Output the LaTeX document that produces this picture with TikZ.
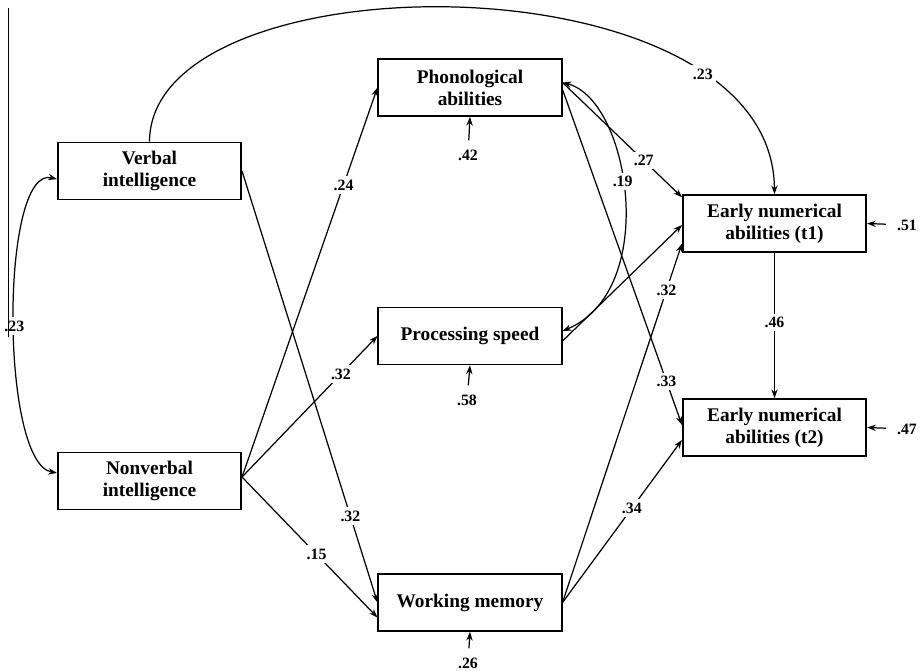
\documentclass[tikz,border=0pt]{standalone}
\usepackage{fontspec}
\setmainfont{Liberation Serif}
\usetikzlibrary{arrows.meta}

\begin{document}
\begin{tikzpicture}[x=0.02cm, y=-0.02cm, line width=0.7pt,
        >={Stealth[length=5pt, width=3.6pt]},
        box/.style={rectangle, draw, line width=0.9pt, minimum width=3.67cm, minimum height=1.14cm,
            inner sep=0pt, align=center, font=\bfseries\fontsize{11}{12.5}\selectfont},
        coef/.style={fill=white, inner sep=2pt, font=\bfseries\fontsize{9}{10}\selectfont}]
        \useasboundingbox (0,0) rectangle (920,670);

        % measured variables
        \node[box] (verbal) at (149.5,171) {Verbal\\intelligence};
        \node[box] (nonverbal) at (149.5,481) {Nonverbal\\intelligence};
        \node[box] (phono) at (470,87.5) {Phonological\\abilities};
        \node[box] (speed) at (470,336) {Processing speed};
        \node[box] (wm) at (470,602.5) {Working memory};
        \node[box] (t1) at (774.5,223.5) {Early numerical\\abilities (t1)};
        \node[box] (t2) at (774.5,427.5) {Early numerical\\abilities (t2)};

        % residuals
        \node[coef] (e42) at (468,155) {.42};
        \node[coef] (e58) at (467,400) {.58};
        \node[coef] (e26) at (468,663) {.26};
        \node[coef] (e51) at (907,225) {.51};
        \node[coef] (e47) at (907,429) {.47};

        \draw[->, shorten <=3pt] (e42) -- (phono.south);
        \draw[->, shorten <=3pt] (e58) -- (speed.south);
        \draw[->, shorten <=3pt] (e26) -- (wm.south);
        \draw[->, shorten <=4pt] (e51) -- (t1.east);
        \draw[->, shorten <=4pt] (e47) -- (t2.east);

        % ends of the paths
        \coordinate (nvout) at ([yshift=0.08cm]nonverbal.east);
        \coordinate (phout) at ([yshift=0.1cm]phono.east);
        \coordinate (phlow) at ([yshift=-0.04cm]phono.east);

        \draw[<->] (verbal.185) .. controls (0,165) and (0,463) .. node[coef, pos=0.52] {.23} (nonverbal.175);
        \draw[->] (verbal.north) .. controls (150,-45) and (773,-46) .. node[coef, pos=0.79] {.23} (t1.north);

        \draw[->] (nvout) -- node[coef, pos=0.75] {.24} (phono.west);
        \draw[->] (nvout) -- node[coef, pos=0.73] {.32} (speed.west);
        \draw[->] (nvout) -- node[coef, pos=0.55] {.15} ([yshift=-0.3cm]wm.west);
        \draw[->] (verbal.east) -- node[coef, pos=0.8] {.32} (wm.west);

        \draw[<->] (phout) .. controls (630,100) and (660,290) .. node[coef, pos=0.45] {.19} ([yshift=0.1cm]speed.east);
        \draw[->] (phout) -- node[coef, pos=0.68] {.27} ([yshift=-0.06cm]t1.north west);
        \draw[->] (phlow) -- node[coef, pos=0.87] {.33} ([yshift=0.05cm]t2.west);
        \draw[->] ([yshift=-0.1cm]speed.east) -- ([yshift=-0.03cm]t1.west);
        \draw[->] (wm.east) -- node[coef, pos=0.87] {.32} ([yshift=-0.4cm]t1.west);
        \draw[->] (wm.east) -- node[coef, pos=0.58] {.34} ([yshift=-0.25cm]t2.west);
        \draw[->] (t1.south) -- node[coef, pos=0.48] {.46} (t2.north);

        \draw[line width=0.5pt] (8,8) -- (8,337);
    \end{tikzpicture}
\end{document}
